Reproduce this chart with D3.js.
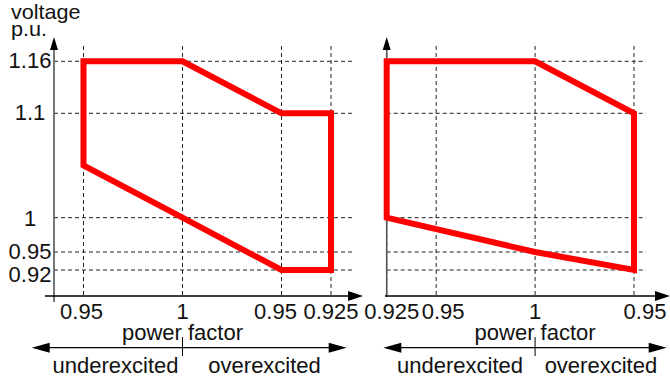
<!DOCTYPE html>
<html>
<head>
<meta charset="utf-8">
<script src="https://cdn.jsdelivr.net/npm/d3@7"></script>
<style>
  body { margin: 0; background: #fff; }
  text { font-family: "Liberation Sans", Arial, sans-serif; fill: #111; }
</style>
</head>
<body>
<div id="chart"></div>
<script>
// voltage levels (p.u.) shown on the y axis
const voltageTicks = [0.92, 0.95, 1, 1.1, 1.16];

// power factor ticks, with side of unity (u = underexcited, o = overexcited)
const leftPfTicks = [0.95, 1, 0.95, 0.925];
const leftPfSide = ['u', '', 'o', 'o'];
const rightPfTicks = [0.925, 0.95, 1, 0.95];
const rightPfSide = ['u', 'u', '', 'o'];

// operating area outlines
const leftAreaPf = [0.95, 1, 0.95, 0.925, 0.925, 0.95, 1, 0.95];
const leftAreaSide = ['u', '', 'o', 'o', 'o', 'o', '', 'u'];
const leftAreaV = [1.16, 1.16, 1.1, 1.1, 0.92, 0.92, 1.0, 1.05];

const rightAreaPf = [0.925, 1, 0.95, 0.95, 1, 0.925];
const rightAreaSide = ['u', '', 'o', 'o', '', 'u'];
const rightAreaV = [1.16, 1.16, 1.1, 0.92, 0.95, 1.0];

const width = 670, height = 381;
const fs = 22;

// signed distance from unity power factor: negative = underexcited
function dev(pf, side) { return side === 'u' ? -(1 - pf) : (1 - pf); }

const svg = d3.select('#chart').append('svg')
    .attr('width', width)
    .attr('height', height);

// schematic (non uniform) voltage axis
const y = d3.scaleLinear()
    .domain(voltageTicks)
    .range([270, 252, 217.7, 113.3, 61.3]);

function arrowHead(g, x, yy, dir, len, half) {
    let pts;
    if (dir === 'right') pts = [[x, yy], [x - len, yy - half], [x - len, yy + half]];
    else if (dir === 'left') pts = [[x, yy], [x + len, yy - half], [x + len, yy + half]];
    else pts = [[x, yy], [x - half, yy + len], [x + half, yy + len]];
    g.append('path').attr('d', 'M' + pts.join('L') + 'Z').attr('fill', '#000');
}

function panel(opts) {
    const { ticks, sides, areaPf, areaSide, areaV, domain, range, axisX, axisLeft, axisRight,
        gridRight, yAxisBottom, tickNudge, arrowLeft, arrowRight, underEnd } = opts;
    const x = d3.scaleLinear().domain(domain).range(range);
    const g = svg.append('g');
    const x0 = x(0);
    const axisY = 296;

    // vertical grid
    g.selectAll('.vgrid').data(ticks).enter().append('line')
        .attr('x1', (d, i) => x(dev(d, sides[i])))
        .attr('x2', (d, i) => x(dev(d, sides[i])))
        .attr('y1', 46).attr('y2', axisY)
        .attr('stroke', '#222').attr('stroke-width', 1).attr('stroke-dasharray', '4,3');

    // horizontal grid
    g.selectAll('.hgrid').data(voltageTicks).enter().append('line')
        .attr('x1', axisX).attr('x2', gridRight)
        .attr('y1', d => y(d)).attr('y2', d => y(d))
        .attr('stroke', '#222').attr('stroke-width', 1).attr('stroke-dasharray', '4,3');

    // y axis
    g.append('line').attr('x1', axisX).attr('x2', axisX).attr('y1', 48).attr('y2', yAxisBottom)
        .attr('stroke', '#555').attr('stroke-width', 1.6);
    arrowHead(g, axisX, 37, 'up', 13, 4);

    // x axis
    g.append('line').attr('x1', axisLeft).attr('x2', axisRight - 12).attr('y1', axisY).attr('y2', axisY)
        .attr('stroke', '#000').attr('stroke-width', 1.4);
    arrowHead(g, axisRight, axisY, 'right', 15, 5);

    // operating area
    const pts = areaPf.map((pf, i) => [x(dev(pf, areaSide[i])), y(areaV[i])]);
    g.append('path')
        .attr('d', d3.line()(pts) + 'Z')
        .attr('fill', 'none')
        .attr('stroke', '#ff0000')
        .attr('stroke-width', 6)
        .attr('stroke-linejoin', 'miter');

    // x tick labels
    g.selectAll('.xlab').data(ticks).enter().append('text')
        .attr('x', (d, i) => x(dev(d, sides[i])) + tickNudge[i])
        .attr('y', 319)
        .attr('text-anchor', 'middle')
        .attr('font-size', fs)
        .text(d => String(d));

    g.append('text').attr('x', x0).attr('y', 340).attr('text-anchor', 'middle')
        .attr('font-size', fs).text('power factor');

    // excitation arrows
    const ay = 347.7;
    g.append('line').attr('x1', arrowLeft + 16).attr('x2', arrowRight - 16).attr('y1', ay).attr('y2', ay)
        .attr('stroke', '#000').attr('stroke-width', 1.2);
    arrowHead(g, arrowLeft, ay, 'left', 18, 5);
    arrowHead(g, arrowRight, ay, 'right', 18, 5);
    g.append('line').attr('x1', x0).attr('x2', x0).attr('y1', 337).attr('y2', 356)
        .attr('stroke', '#000').attr('stroke-width', 1);

    g.append('text').attr('x', x0 - underEnd).attr('y', 373).attr('text-anchor', 'end')
        .attr('font-size', fs).text('underexcited');
    g.append('text').attr('x', (x0 + arrowRight) / 2).attr('y', 373).attr('text-anchor', 'middle')
        .attr('font-size', fs).text('overexcited');
}

panel({
    ticks: leftPfTicks, sides: leftPfSide,
    areaPf: leftAreaPf, areaSide: leftAreaSide, areaV: leftAreaV,
    domain: [-0.05, 0.075], range: [83.5, 331],
    axisX: 54, axisLeft: 45, axisRight: 363, gridRight: 352, yAxisBottom: 302,
    tickNudge: [-2, 0, -6, 0],
    arrowLeft: 31.7, arrowRight: 346.7, underEnd: 4
});

panel({
    ticks: rightPfTicks, sides: rightPfSide,
    areaPf: rightAreaPf, areaSide: rightAreaSide, areaV: rightAreaV,
    domain: [-0.075, 0.05], range: [386.7, 634],
    axisX: 386.7, axisLeft: 385, axisRight: 670, gridRight: 646, yAxisBottom: 297,
    tickNudge: [5, 7, 0, 11],
    arrowLeft: 383.3, arrowRight: 666.7, underEnd: 12
});

// y tick labels (left panel only)
const yNudge = { 0.92: 12, 0.95: 7, 1: 8, 1.1: 7, 1.16: 7 };
svg.selectAll('.ylab').data(voltageTicks).enter().append('text')
    .attr('x', 30)
    .attr('y', d => y(d) + yNudge[d])
    .attr('text-anchor', 'middle')
    .attr('font-size', fs)
    .text(d => String(d));

// axis title
svg.append('text').attr('transform', 'translate(11,19) scale(1.08,1)').attr('font-size', 20).text('voltage');
svg.append('text').attr('transform', 'translate(11,36) scale(1.08,1)').attr('font-size', 20).text('p.u.');
</script>
</body>
</html>
